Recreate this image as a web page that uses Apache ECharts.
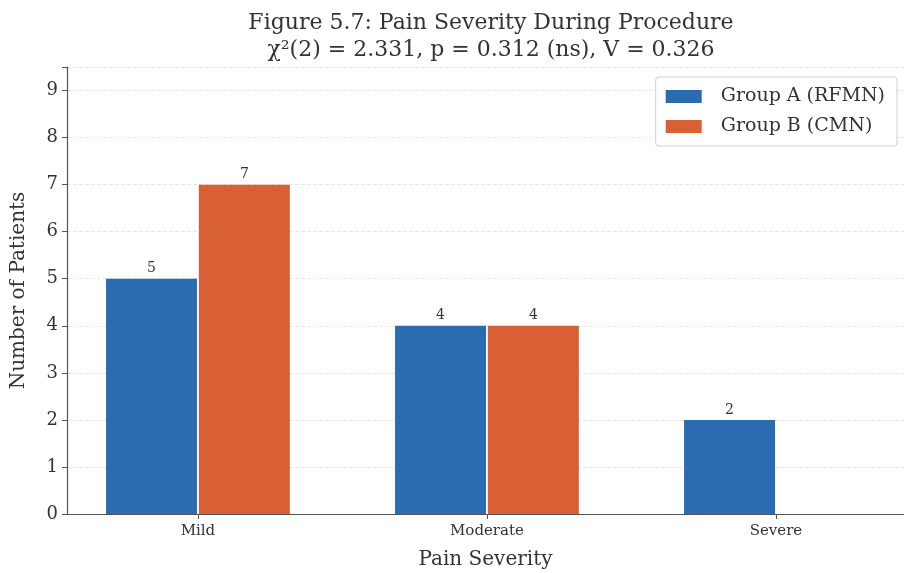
<!DOCTYPE html>
<html>
<head>
<meta charset="utf-8">
<script src="https://cdn.jsdelivr.net/npm/echarts@6/dist/echarts.min.js"></script>
<style>
  html, body { margin: 0; padding: 0; background: #fff; }
  #chart { width: 904px; height: 573px; }
</style>
</head>
<body>
<div id="chart"></div>
<script>
const categories = ["Mild", "Moderate", "Severe"];
const groupA = [5, 4, 2];
const groupB = [7, 4, 0];
const seriesNames = ["Group A (RFMN)", "Group B (CMN)"];
const yTicks = [0, 1, 2, 3, 4, 5, 6, 7, 8, 9];

const serif = "DejaVu Serif";
const textColor = "#333";

// zero counts draw no bar at all
function toPoints(values)
{
    return values.map((v, i) => [i, v === 0 ? null : v]);
}

const labelStyle = {
    show: true,
    position: "top",
    distance: 3,
    fontFamily: serif,
    fontSize: 14,
    color: textColor
};

const option = {
    backgroundColor: "#fff",
    animation: false,
    title: {
        text: "Figure 5.7: Pain Severity During Procedure\nχ²(2) = 2.331, p = 0.312 (ns), V = 0.326",
        left: 486,
        top: 5,
        textAlign: "center",
        textStyle: {
            fontFamily: serif,
            fontSize: 22,
            fontWeight: "normal",
            color: textColor,
            lineHeight: 27
        }
    },
    legend: {
        orient: "vertical",
        right: 7,
        top: 77,
        icon: "rect",
        itemWidth: 36,
        itemHeight: 13,
        itemGap: 11,
        padding: [10, 12, 10, 10],
        borderColor: "#d0d0d0",
        borderWidth: 1,
        borderRadius: 3,
        backgroundColor: "#fff",
        textStyle: { fontFamily: serif, fontSize: 19, color: textColor, padding: [0, 0, 0, 14] },
        data: seriesNames
    },
    grid: { left: 67, right: 0, top: 67, bottom: 59, outerBoundsMode: "none" },
    xAxis: {
        type: "value",
        min: -0.453,
        max: 2.443,
        name: "Pain Severity",
        nameLocation: "middle",
        nameGap: 36,
        nameTextStyle: { fontFamily: serif, fontSize: 20, color: textColor },
        axisLine: { lineStyle: { color: "#555", width: 1.2 } },
        axisTick: { show: true, length: 5, customValues: [0, 1, 2], lineStyle: { color: "#555" } },
        axisLabel: {
            customValues: [0, 1, 2],
            formatter: (v) => categories[Math.round(v)],
            fontFamily: serif,
            fontSize: 15,
            color: textColor,
            margin: 10
        },
        splitLine: { show: false }
    },
    yAxis: {
        type: "value",
        min: 0,
        max: 9.5,
        interval: 1,
        name: "Number of Patients",
        nameLocation: "middle",
        nameGap: 38,
        nameTextStyle: { fontFamily: serif, fontSize: 20, color: textColor },
        axisLine: { show: true, onZero: false, lineStyle: { color: "#555", width: 1.2 } },
        axisTick: { show: true, length: 5, lineStyle: { color: "#555" } },
        axisLabel: {
            fontFamily: serif,
            fontSize: 18,
            color: textColor,
            margin: 9,
            formatter: (v) => (yTicks.includes(v) ? String(v) : "")
        },
        splitLine: { show: true, lineStyle: { color: "#e6e6e6", type: "dashed", width: 1 } }
    },
    series: [
        {
            name: seriesNames[0],
            type: "bar",
            data: toPoints(groupA),
            barWidth: 91,
            barGap: "2%",
            itemStyle: { color: "#2b6cb0" },
            label: labelStyle
        },
        {
            name: seriesNames[1],
            type: "bar",
            data: toPoints(groupB),
            barWidth: 91,
            barGap: "2%",
            itemStyle: { color: "#d95f35" },
            label: labelStyle
        }
    ]
};

const chart = echarts.init(document.getElementById("chart"));
chart.setOption(option);
</script>
</body>
</html>
